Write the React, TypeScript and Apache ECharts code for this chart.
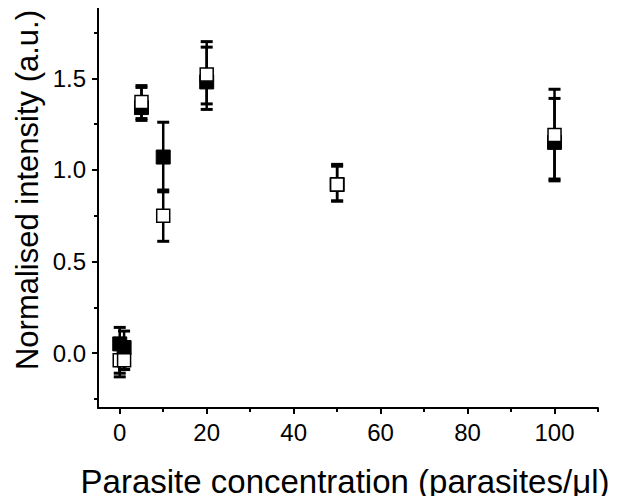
import React, { useEffect, useRef } from "react";
import * as echarts from "echarts";

// concentration (parasites/µl)
const filledX = [0, 1, 5, 10, 20, 50, 100];
const filledY = [0.05, 0.03, 1.34, 1.07, 1.48, 0.92, 1.15];
const filledLo = [-0.13, -0.09, 1.28, 0.88, 1.33, 0.83, 0.94];
const filledHi = [0.14, 0.12, 1.45, 1.26, 1.70, 1.02, 1.44];

const openX = [0, 1, 5, 10, 20, 50, 100];
const openY = [-0.04, -0.04, 1.37, 0.75, 1.52, 0.92, 1.19];
const openLo = [-0.11, -0.09, 1.27, 0.61, 1.36, 0.83, 0.95];
const openHi = [0.06, 0.04, 1.46, 0.89, 1.67, 1.03, 1.39];

const xMajor = [0, 20, 40, 60, 80, 100];
const xMinor = [10, 30, 50, 70, 90, 110];
const yMajor = [0, 0.5, 1.0, 1.5];
const yMinor = [-0.25, 0.25, 0.75, 1.25, 1.75];

const FONT = "'Liberation Sans', Arial, sans-serif";

function errSeries(xs: number[], ys: number[], lo: number[], hi: number[], z: number) {
  return {
    type: "custom",
    z,
    xAxisIndex: 0,
    yAxisIndex: 0,
    encode: { x: 0, y: 1 },
    data: xs.map((x, i) => [x, ys[i], lo[i], hi[i]]),
    renderItem: (params: any, api: any) => {
      const x = api.value(0);
      const pHi = api.coord([x, api.value(3)]);
      const pLo = api.coord([x, api.value(2)]);
      const hw = 6;
      const st = { stroke: "#000", lineWidth: 2.5 };
      const cap = { stroke: "#000", lineWidth: 3 };
      return {
        type: "group",
        children: [
          { type: "line", shape: { x1: pHi[0], y1: pHi[1], x2: pLo[0], y2: pLo[1] }, style: st },
          { type: "line", shape: { x1: pHi[0] - hw, y1: pHi[1], x2: pHi[0] + hw, y2: pHi[1] }, style: cap },
          { type: "line", shape: { x1: pLo[0] - hw, y1: pLo[1], x2: pLo[0] + hw, y2: pLo[1] }, style: cap },
        ],
      };
    },
  };
}

export default function App() {
  const ref = useRef<HTMLDivElement>(null);
  useEffect(() => {
    if (!ref.current) return;
    const chart = echarts.init(ref.current, null, { renderer: "svg" });
    const axisLineStyle = { color: "#000", width: 2 };
    const baseX = {
      type: "value",
      min: -5,
      max: 110,
      position: "bottom",
      splitLine: { show: false },
    };
    const baseY = {
      type: "value",
      min: -0.3,
      max: 1.9,
      position: "left",
      splitLine: { show: false },
    };
    chart.setOption({
      animation: false,
      backgroundColor: "#fff",
      grid: { left: 98, right: 25, top: 5, bottom: 96, containLabel: false },
      xAxis: [
        {
          ...baseX,
          axisLine: { show: true, onZero: false, lineStyle: axisLineStyle },
          axisTick: { show: true, length: 6, lineStyle: { color: "#000", width: 2 }, customValues: xMajor },
          axisLabel: {
            show: true,
            customValues: xMajor,
            margin: 12,
            color: "#000",
            fontSize: 24,
            fontFamily: FONT,
          },
        },
        {
          ...baseX,
          axisLine: { show: false, onZero: false },
          axisTick: { show: true, length: 4, lineStyle: { color: "#000", width: 2 }, customValues: xMinor },
          axisLabel: { show: false },
        },
      ],
      yAxis: [
        {
          ...baseY,
          axisLine: { show: true, onZero: false, lineStyle: axisLineStyle },
          axisTick: { show: true, length: 6, lineStyle: { color: "#000", width: 2 }, customValues: yMajor },
          axisLabel: {
            show: true,
            customValues: yMajor,
            margin: 12,
            color: "#000",
            fontSize: 24,
            fontFamily: FONT,
            formatter: (v: number) => v.toFixed(1),
          },
        },
        {
          ...baseY,
          axisLine: { show: false, onZero: false },
          axisTick: { show: true, length: 4, lineStyle: { color: "#000", width: 2 }, customValues: yMinor },
          axisLabel: { show: false },
        },
      ],
      graphic: [
        {
          type: "text",
          x: 27,
          y: 190,
          rotation: Math.PI / 2,
          style: {
            text: "Normalised intensity (a.u.)",
            font: `31px ${FONT}`,
            fill: "#000",
            textAlign: "center",
            textVerticalAlign: "middle",
          },
        },
        {
          type: "text",
          x: 345,
          y: 481,
          style: {
            text: "Parasite concentration (parasites/\u03bcl)",
            font: `33px ${FONT}`,
            fill: "#000",
            textAlign: "center",
            textVerticalAlign: "middle",
          },
        },
      ],
      series: [
        errSeries(filledX, filledY, filledLo, filledHi, 2),
        {
          type: "scatter",
          z: 3,
          symbol: "rect",
          symbolSize: 14,
          itemStyle: { color: "#000", borderColor: "#000", borderWidth: 1, opacity: 1 },
          data: filledX.map((x, i) => [x, filledY[i]]),
        },
        errSeries(openX, openY, openLo, openHi, 4),
        {
          type: "scatter",
          z: 5,
          symbol: "rect",
          symbolSize: 13,
          itemStyle: { color: "#fff", borderColor: "#000", borderWidth: 1.5, opacity: 1 },
          data: openX.map((x, i) => [x, openY[i]]),
        },
      ],
    });
    return () => chart.dispose();
  }, []);
  return <div ref={ref} style={{ width: 623, height: 504, margin: -8 }} />;
}
